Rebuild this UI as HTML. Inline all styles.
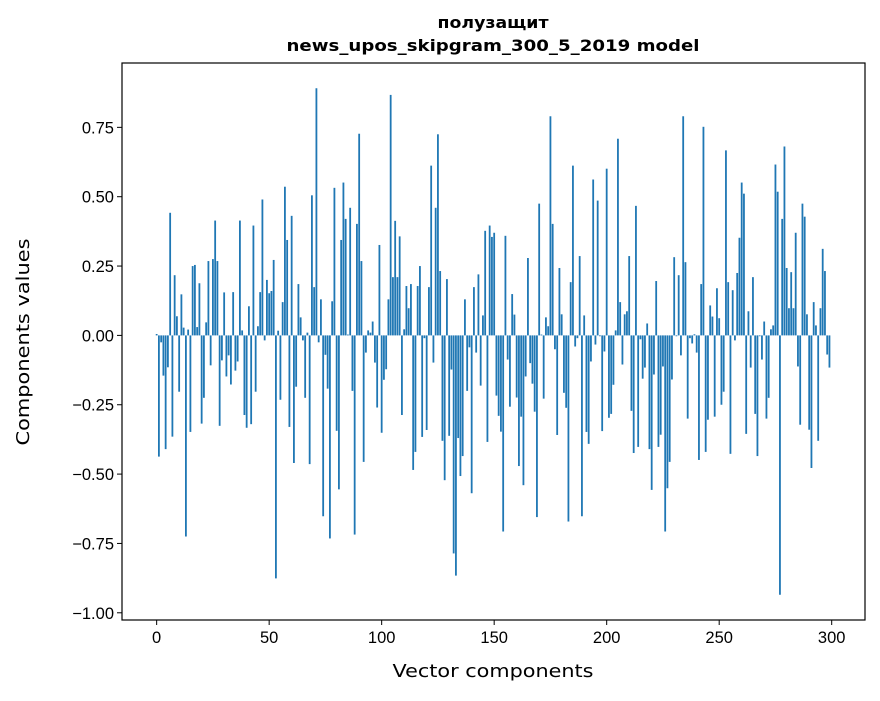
<!DOCTYPE html>
<html><head><meta charset="utf-8"><style>
body{margin:0;background:#fff;}
svg text{font-family:"DejaVu Sans","Liberation Sans",sans-serif;fill:#000;}
svg text.tick{font-family:"Liberation Sans","DejaVu Sans",sans-serif;}
</style></head><body>
<svg id="chart" width="880" height="696" xmlns="http://www.w3.org/2000/svg">
<text x="493" y="28" text-anchor="middle" font-size="16" font-weight="bold" textLength="111" lengthAdjust="spacingAndGlyphs">полузащит</text>
<text x="493" y="51" text-anchor="middle" font-size="16" font-weight="bold" textLength="413" lengthAdjust="spacingAndGlyphs">news_upos_skipgram_300_5_2019 model</text>
<g id="bars"></g>
<g id="xticks"></g>
<g id="yticks"></g>
<rect x="122" y="63" width="743" height="557" fill="none" stroke="#000" stroke-width="1.2"/>
<text x="493" y="677" text-anchor="middle" font-size="18" textLength="201" lengthAdjust="spacingAndGlyphs">Vector components</text>
<text transform="translate(29,342) rotate(-90)" text-anchor="middle" font-size="18" textLength="207" lengthAdjust="spacingAndGlyphs">Components values</text>
</svg>
<script>
const values = [0.005,-0.437,-0.025,-0.145,-0.41,-0.115,0.442,-0.365,0.217,0.069,-0.203,0.148,0.028,-0.725,0.021,-0.348,0.25,0.254,0.03,0.188,
-0.318,-0.225,0.047,0.268,-0.108,0.275,0.414,0.268,-0.326,-0.09,0.155,-0.148,-0.072,-0.177,0.156,-0.127,-0.094,0.414,0.018,-0.287,
-0.333,0.105,-0.32,0.396,-0.203,0.033,0.156,0.49,-0.018,0.2,0.152,0.16,0.272,-0.876,0.017,-0.232,0.12,0.536,0.344,-0.33,
0.431,-0.46,-0.185,0.185,0.065,-0.018,-0.225,0.01,-0.464,0.505,0.174,0.891,-0.025,0.13,-0.652,-0.07,-0.192,-0.732,0.123,0.532,
-0.344,-0.555,0.344,0.551,0.42,0.003,0.46,-0.2,-0.718,0.402,0.727,0.268,-0.456,-0.062,0.018,0.01,0.05,-0.098,-0.26,0.326,
-0.351,-0.16,-0.122,0.13,0.867,0.21,0.413,0.21,0.357,-0.287,0.022,0.178,0.098,0.185,-0.485,-0.42,0.178,0.25,-0.366,-0.01,
-0.341,0.174,0.612,-0.098,0.46,0.725,0.232,-0.38,-0.522,0.203,-0.362,-0.123,-0.786,-0.866,-0.37,-0.507,-0.435,0.13,-0.2,-0.043,
-0.569,0.174,-0.062,0.22,-0.181,0.072,0.377,-0.384,0.396,0.355,0.37,-0.217,-0.29,-0.347,-0.707,0.359,-0.087,-0.257,0.149,0.075,
-0.224,-0.471,-0.293,-0.54,-0.148,0.279,-0.1,-0.174,-0.275,-0.655,0.475,0.003,-0.228,0.065,0.033,0.79,0.402,-0.05,-0.359,0.243,
0.076,-0.207,-0.261,-0.671,0.192,0.612,-0.04,-0.01,0.286,-0.652,0.072,-0.348,-0.391,-0.094,0.562,-0.033,0.486,-0.003,-0.345,-0.058,
0.601,-0.297,-0.283,-0.178,0.018,0.709,0.12,-0.105,0.076,0.087,0.286,-0.272,-0.424,0.467,-0.402,-0.014,-0.156,-0.116,0.043,-0.41,
-0.557,-0.141,0.196,-0.402,-0.358,-0.112,-0.707,-0.551,-0.456,-0.159,0.282,-0.003,0.217,-0.072,0.79,0.264,-0.3,-0.01,-0.029,0.004,
-0.062,-0.449,0.185,0.752,-0.42,-0.304,0.108,0.068,-0.293,0.17,0.062,-0.25,-0.203,0.667,0.192,-0.427,0.163,-0.018,0.225,0.352,
0.551,0.511,-0.355,0.087,-0.116,0.21,-0.283,-0.435,-0.003,-0.087,0.05,-0.3,-0.225,0.022,0.036,0.616,0.518,-0.935,0.42,0.681,
0.243,0.098,0.228,0.098,0.37,-0.112,-0.322,0.475,0.428,0.076,-0.34,-0.478,0.12,0.036,-0.38,0.098,0.312,0.232,-0.069,-0.116];
const xTicks = [0,50,100,150,200,250,300];
const yTicks = [0.75,0.5,0.25,0,-0.25,-0.5,-0.75,-1.0];
const yTickLabels = ["0.75","0.50","0.25","0.00","\u22120.25","\u22120.50","\u22120.75","\u22121.00"];

const NS="http://www.w3.org/2000/svg";
const L=122,R=865,T=63,B=620;
const xMin=-15.4,xMax=314.8,yMin=-1.026,yMax=0.982;
const sx=v=>L+(v-xMin)/(xMax-xMin)*(R-L);
const sy=v=>T+(yMax-v)/(yMax-yMin)*(B-T);
const bw=0.8*(R-L)/(xMax-xMin);
const gb=document.getElementById('bars');
values.forEach((v,i)=>{
  const r=document.createElementNS(NS,'rect');
  
  
  const y0=sy(0),y1=sy(v);
  r.setAttribute('x',sx(i)-bw/2);
  r.setAttribute('y',Math.min(y0,y1));
  r.setAttribute('width',bw);
  r.setAttribute('height',Math.max(Math.abs(y1-y0),0.3));
  r.setAttribute('fill','#1f77b4');
  gb.appendChild(r);
});
const gx=document.getElementById('xticks');
xTicks.forEach(t=>{
  const ln=document.createElementNS(NS,'line');
  
  
  ln.setAttribute('x1',sx(t));ln.setAttribute('x2',sx(t));
  ln.setAttribute('y1',B);ln.setAttribute('y2',B+5);
  ln.setAttribute('stroke','#000');
  gx.appendChild(ln);
  const tx=document.createElementNS(NS,'text');
  
  
  tx.setAttribute('class','tick');
  tx.setAttribute('x',sx(t));tx.setAttribute('y',B+23);
  tx.setAttribute('text-anchor','middle');tx.setAttribute('font-size','16.5');
  tx.textContent=String(t);
  gx.appendChild(tx);
});
const gy=document.getElementById('yticks');
yTicks.forEach((t,k)=>{
  const ln=document.createElementNS(NS,'line');
  
  
  ln.setAttribute('x1',L-5);ln.setAttribute('x2',L);
  ln.setAttribute('y1',sy(t));ln.setAttribute('y2',sy(t));
  ln.setAttribute('stroke','#000');
  gy.appendChild(ln);
  const tx=document.createElementNS(NS,'text');
  
  
  tx.setAttribute('class','tick');
  tx.setAttribute('x',L-8);tx.setAttribute('y',sy(t)+6);
  tx.setAttribute('text-anchor','end');tx.setAttribute('font-size','16.5');
  tx.textContent=yTickLabels[k];
  gy.appendChild(tx);
});
</script>
</body></html>
